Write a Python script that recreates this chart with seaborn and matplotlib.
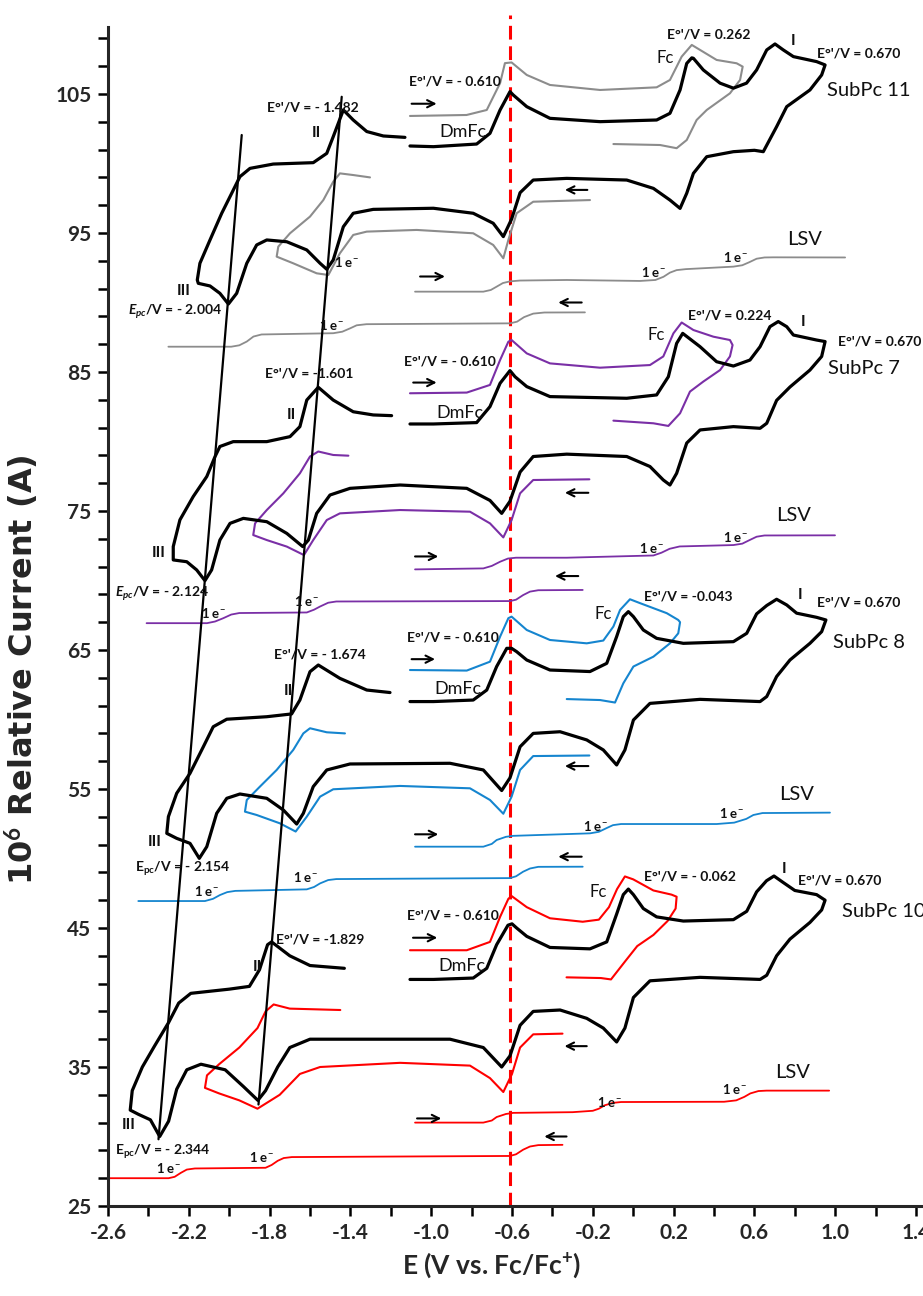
import matplotlib
matplotlib.use("Agg")
import matplotlib.pyplot as plt
import seaborn as sns

sns.set_theme(style="ticks")
plt.rcParams['font.family'] = ['Lato', 'DejaVu Sans']
plt.rcParams['mathtext.fontset'] = 'custom'
plt.rcParams['mathtext.rm'] = 'Lato:bold'
plt.rcParams['mathtext.it'] = 'Lato:italic:bold'
plt.rcParams['mathtext.bf'] = 'Lato:bold'

# ---------------- SubPc 11 (grey) ----------------
s11_cv_E = [-1.105, -0.989, -0.775, -0.709, -0.659, -0.610, -0.594, -0.527, -0.412, -0.164, 0.116, 0.182,
            0.232, 0.265, 0.290, 0.298, 0.347, 0.430, 0.496, 0.561, 0.611, 0.661, 0.702, 0.743, 0.793, 0.908,
            0.950, 0.933, 0.875, 0.760, 0.710, 0.644, 0.600, 0.496, 0.364, 0.298, 0.265, 0.232, 0.182, 0.100,
            -0.032, -0.329, -0.495, -0.560, -0.602, -0.643, -0.693, -0.792, -0.989, -1.287, -1.386, -1.435,
            -1.485, -1.517, -1.550, -1.616, -1.715, -1.814, -1.864, -1.913, -1.963, -2.004, -2.046, -2.095,
            -2.153, -2.158, -2.145, -2.095, -2.037, -1.988, -1.947, -1.897, -1.782, -1.584, -1.517, -1.485,
            -1.435, -1.386, -1.319, -1.237, -1.130]
s11_cv_I = [101.26, 101.21, 101.40, 102.17, 103.85, 105.17, 104.93, 104.09, 103.25, 103.01, 103.13, 103.61,
            105.29, 107.20, 107.60, 107.57, 106.73, 105.78, 105.42, 105.78, 106.73, 108.17, 108.60, 108.17,
            107.69, 107.33, 107.09, 106.37, 105.29, 104.09, 102.65, 100.85, 100.95, 100.85, 100.49, 99.29,
            97.86, 96.77, 97.37, 98.21, 98.81, 98.93, 98.81, 97.90, 96.00, 94.74, 95.70, 96.42, 96.78, 96.70,
            96.42, 95.45, 93.06, 92.39, 92.82, 93.78, 94.37, 94.50, 94.14, 92.82, 90.66, 89.89, 90.66, 91.19,
            91.38, 91.62, 92.82, 94.50, 96.42, 97.85, 99.05, 99.65, 99.96, 100.06, 100.73, 101.93, 103.85,
            103.13, 102.30, 101.98, 101.88]
s11_ref_hi_E = [-1.105, -0.825, -0.725, -0.659, -0.635, -0.602, -0.527, -0.412, -0.164, 0.116, 0.182, 0.240,
                0.290, 0.331, 0.413, 0.512, 0.542, 0.529, 0.479, 0.364, 0.314, 0.265, 0.215, 0.133, -0.098]
s11_ref_hi_I = [103.42, 103.49, 103.85, 105.78, 107.22, 107.27, 106.37, 105.65, 105.29, 105.48, 106.01, 107.69,
                108.53, 108.17, 107.45, 107.21, 106.97, 106.01, 105.05, 103.85, 103.13, 101.69, 101.10, 101.33,
                101.40]
s11_ref_lo_E = [-0.214, -0.495, -0.577, -0.618, -0.643, -0.693, -0.792, -1.072, -1.319, -1.386, -1.452, -1.509,
                -1.567, -1.683, -1.765, -1.757, -1.699, -1.600, -1.534, -1.485, -1.452, -1.386, -1.303]
s11_ref_lo_I = [97.37, 97.25, 96.42, 94.50, 93.18, 94.14, 94.98, 95.22, 95.10, 94.86, 93.54, 91.98, 92.10,
                92.82, 93.30, 94.02, 94.98, 96.18, 97.37, 98.69, 99.29, 99.17, 99.00]
s11_lsv_hi_E = [-1.080, -0.742, -0.705, -0.676, -0.645, -0.610, -0.560, -0.329, 0.034, 0.110, 0.150, 0.182,
                0.215, 0.260, 0.496, 0.540, 0.575, 0.611, 0.650, 0.694, 1.049]
s11_lsv_hi_I = [90.78, 90.78, 90.90, 91.14, 91.40, 91.52, 91.58, 91.62, 91.55, 91.62, 91.85, 92.15,
                92.33, 92.40, 92.58, 92.68, 92.90, 93.15, 93.24, 93.25, 93.24]
s11_lsv_lo_E = [-2.301, -1.990, -1.950, -1.913, -1.880, -1.840, -1.485, -1.440, -1.400, -1.369, -1.320,
                -0.610, -0.575, -0.540, -0.495, -0.440, -0.239]
s11_lsv_lo_I = [86.82, 86.82, 86.92, 87.19, 87.55, 87.70, 87.79, 87.90, 88.15, 88.36, 88.44,
                88.50, 88.62, 88.95, 89.20, 89.28, 89.29]

# ---------------- SubPc 7 (purple) ----------------
s7_cv_E = [-1.105, -0.989, -0.775, -0.709, -0.659, -0.610, -0.585, -0.527, -0.412, -0.032, 0.116, 0.174,
           0.215, 0.245, 0.331, 0.413, 0.496, 0.578, 0.628, 0.677, 0.718, 0.760, 0.793, 0.908, 0.950, 0.933,
           0.875, 0.776, 0.710, 0.661, 0.628, 0.496, 0.331, 0.265, 0.215, 0.182, 0.149, 0.083, -0.032, -0.329,
           -0.495, -0.560, -0.610, -0.651, -0.709, -0.824, -1.154, -1.402, -1.501, -1.567, -1.608, -1.636,
           -1.715, -1.814, -1.930, -1.996, -2.046, -2.087, -2.120, -2.161, -2.210, -2.277, -2.277, -2.244,
           -2.178, -2.111, -2.070, -2.046, -1.980, -1.814, -1.699, -1.650, -1.616, -1.559, -1.485, -1.386,
           -1.287, -1.196]
s7_cv_I = [81.26, 81.26, 81.36, 82.51, 84.19, 85.10, 84.66, 83.95, 83.23, 83.11, 83.35, 84.66, 87.06, 87.78,
           86.82, 85.74, 85.43, 85.86, 86.82, 88.26, 88.63, 88.26, 87.66, 87.30, 87.19, 86.12, 85.14, 83.92,
           82.96, 81.31, 80.95, 81.07, 80.83, 79.89, 77.71, 76.87, 77.23, 78.20, 78.92, 79.09, 78.92, 77.80,
           75.70, 74.83, 75.76, 76.63, 76.87, 76.63, 76.15, 74.83, 72.91, 72.44, 73.39, 74.23, 74.47, 74.11,
           72.91, 70.76, 69.99, 70.76, 71.35, 71.48, 72.44, 74.36, 76.04, 77.48, 78.92, 79.64, 79.99, 79.99,
           80.35, 81.07, 82.98, 83.90, 82.98, 82.14, 81.91, 81.86]
s7_ref_hi_E = [-1.105, -0.824, -0.709, -0.659, -0.618, -0.602, -0.527, -0.412, -0.164, 0.083, 0.149, 0.199,
               0.240, 0.298, 0.397, 0.479, 0.492, 0.479, 0.430, 0.347, 0.281, 0.232, 0.174, 0.100, -0.098]
s7_ref_hi_I = [83.47, 83.52, 84.07, 85.86, 87.18, 87.30, 86.34, 85.62, 85.31, 85.50, 86.12, 87.78, 88.56,
               88.02, 87.54, 87.30, 86.94, 86.12, 85.14, 84.31, 83.59, 82.03, 81.12, 81.31, 81.50]
s7_ref_lo_E = [-0.217, -0.495, -0.560, -0.602, -0.643, -0.709, -0.808, -1.154, -1.452, -1.517, -1.584, -1.630,
               -1.715, -1.814, -1.881, -1.872, -1.814, -1.732, -1.650, -1.600, -1.559, -1.485, -1.410]
s7_ref_lo_I = [77.28, 77.23, 76.27, 74.35, 73.10, 74.11, 74.95, 75.07, 74.83, 74.35, 72.91, 71.83, 72.44,
               72.91, 73.27, 74.11, 75.07, 76.27, 77.71, 78.92, 79.28, 79.03, 78.98]
s7_lsv_hi_E = [-1.080, -0.742, -0.700, -0.659, -0.620, -0.580, -0.329, 0.100, 0.140, 0.180, 0.230, 0.496,
               0.540, 0.575, 0.611, 0.650, 0.999]
s7_lsv_hi_I = [70.80, 70.87, 71.05, 71.35, 71.58, 71.64, 71.64, 71.80, 72.00, 72.28, 72.45, 72.55,
               72.65, 72.90, 73.15, 73.24, 73.25]
s7_lsv_lo_E = [-2.409, -2.110, -2.070, -2.029, -1.990, -1.950, -1.616, -1.580, -1.550, -1.510, -1.470,
               -0.610, -0.580, -0.545, -0.511, -0.470, -0.250]
s7_lsv_lo_I = [66.93, 66.93, 67.05, 67.29, 67.55, 67.66, 67.70, 67.90, 68.13, 68.40, 68.49,
               68.52, 68.62, 68.95, 69.20, 69.30, 69.32]

# ---------------- SubPc 8 (blue) ----------------
s8_cv_E = [-1.105, -0.989, -0.792, -0.725, -0.676, -0.626, -0.602, -0.577, -0.527, -0.412, -0.214, -0.131,
           -0.082, -0.049, -0.024, 0.001, 0.050, 0.116, 0.248, 0.496, 0.562, 0.611, 0.661, 0.710, 0.760, 0.809,
           0.908, 0.954, 0.933, 0.875, 0.776, 0.710, 0.661, 0.628, 0.331, 0.083, 0.001, -0.041, -0.082,
           -0.148, -0.230, -0.362, -0.495, -0.560, -0.610, -0.651, -0.742, -0.907, -1.402, -1.517, -1.584,
           -1.633, -1.666, -1.732, -1.814, -1.947, -2.012, -2.062, -2.111, -2.148, -2.194, -2.260, -2.309,
           -2.301, -2.260, -2.194, -2.128, -2.079, -2.012, -1.814, -1.691, -1.650, -1.600, -1.559, -1.452,
           -1.319, -1.204]
s8_cv_I = [61.29, 61.29, 61.40, 62.12, 63.81, 65.12, 65.12, 64.88, 64.28, 63.56, 63.45, 64.04, 65.96, 67.40,
           67.76, 67.40, 66.44, 65.84, 65.48, 65.60, 66.20, 67.60, 68.20, 68.65, 68.24, 67.65, 67.35, 67.16,
           66.32, 65.48, 64.28, 63.09, 61.65, 61.29, 61.45, 61.16, 59.96, 57.81, 56.73, 57.81, 58.53, 59.12,
           59.00, 58.04, 55.80, 54.89, 56.37, 56.85, 56.80, 56.37, 55.17, 53.25, 52.48, 53.49, 54.33, 54.64,
           54.33, 53.25, 50.85, 50.01, 51.09, 51.45, 51.81, 53.01, 54.69, 56.13, 58.04, 59.48, 60.02, 60.20,
           60.40, 61.40, 63.44, 63.92, 62.96, 62.12, 61.94]
s8_ref_hi_E = [-1.105, -0.824, -0.709, -0.659, -0.618, -0.602, -0.527, -0.412, -0.230, -0.148, -0.098, -0.065,
               -0.016, 0.034, 0.166, 0.223, 0.232, 0.223, 0.182, 0.100, 0.001, -0.049, -0.090, -0.164, -0.329]
s8_ref_hi_I = [63.56, 63.52, 64.16, 65.96, 67.29, 67.40, 66.44, 65.72, 65.48, 65.68, 66.69, 67.88, 68.65,
               68.37, 67.65, 67.16, 67.00, 66.20, 65.48, 64.52, 63.81, 62.60, 61.22, 61.40, 61.47]
s8_ref_lo_E = [-0.217, -0.495, -0.560, -0.602, -0.643, -0.709, -0.808, -1.154, -1.485, -1.550, -1.616, -1.671,
               -1.749, -1.864, -1.922, -1.913, -1.848, -1.765, -1.683, -1.633, -1.600, -1.517, -1.427]
s8_ref_lo_I = [57.41, 57.37, 56.37, 54.45, 53.22, 54.21, 55.05, 55.22, 54.98, 54.45, 53.01, 51.94, 52.53,
               53.13, 53.37, 54.21, 55.17, 56.37, 57.81, 59.00, 59.37, 59.08, 59.00]
s8_lsv_hi_E = [-1.080, -0.742, -0.700, -0.676, -0.630, -0.594, -0.214, -0.170, -0.130, -0.100, -0.060, 0.413,
               0.500, 0.560, 0.595, 0.640, 0.974]
s8_lsv_hi_I = [50.85, 50.85, 51.05, 51.33, 51.56, 51.63, 51.81, 51.92, 52.20, 52.40, 52.48, 52.48,
               52.58, 52.85, 53.13, 53.27, 53.30]
s8_lsv_lo_E = [-2.450, -2.120, -2.080, -2.046, -2.010, -1.970, -1.616, -1.580, -1.550, -1.510, -1.470,
               -0.610, -0.580, -0.545, -0.511, -0.470, -0.250]
s8_lsv_lo_I = [46.94, 46.94, 47.10, 47.37, 47.58, 47.67, 47.78, 47.95, 48.21, 48.45, 48.52,
               48.59, 48.72, 49.05, 49.28, 49.40, 49.41]

# ---------------- SubPc 10 (red) ----------------
s10_cv_E = [-1.105, -0.989, -0.792, -0.725, -0.676, -0.620, -0.600, -0.577, -0.527, -0.412, -0.214, -0.131,
            -0.082, -0.049, -0.024, 0.001, 0.050, 0.116, 0.248, 0.496, 0.562, 0.611, 0.660, 0.697, 0.740,
            0.800, 0.908, 0.950, 0.933, 0.875, 0.776, 0.710, 0.661, 0.628, 0.331, 0.083, 0.001, -0.041,
            -0.082, -0.148, -0.230, -0.362, -0.495, -0.560, -0.610, -0.651, -0.742, -0.907, -1.600, -1.700,
            -1.760, -1.820, -1.858, -1.930, -2.020, -2.140, -2.210, -2.260, -2.300, -2.344, -2.390, -2.450,
            -2.490, -2.480, -2.430, -2.370, -2.300, -2.250, -2.190, -2.000, -1.900, -1.850, -1.810, -1.790,
            -1.700, -1.600, -1.430]
s10_cv_I = [41.30, 41.30, 41.40, 42.10, 43.80, 45.20, 45.30, 45.00, 44.40, 43.60, 43.50, 44.00, 46.00, 47.40,
            47.80, 47.40, 46.40, 45.80, 45.50, 45.60, 46.20, 47.60, 48.40, 48.74, 48.30, 47.70, 47.40, 47.00,
            46.30, 45.40, 44.20, 43.00, 41.60, 41.30, 41.45, 41.20, 40.00, 37.80, 36.80, 37.80, 38.50, 39.10,
            39.00, 38.00, 35.80, 35.00, 36.40, 37.00, 37.00, 36.40, 35.00, 33.30, 32.60, 33.60, 34.80, 35.20,
            34.80, 33.40, 31.10, 30.00, 31.20, 31.60, 31.90, 33.30, 35.00, 36.50, 38.20, 39.60, 40.30, 40.60,
            40.80, 42.00, 43.80, 44.00, 43.00, 42.30, 42.10]
s10_ref_hi_E = [-1.105, -0.824, -0.709, -0.659, -0.618, -0.602, -0.527, -0.412, -0.250, -0.170, -0.120,
                -0.080, -0.041, 0.000, 0.100, 0.190, 0.215, 0.210, 0.170, 0.100, 0.020, -0.040, -0.110,
                -0.160, -0.330]
s10_ref_hi_I = [43.40, 43.40, 44.00, 45.80, 47.10, 47.30, 46.50, 45.70, 45.45, 45.60, 46.50, 47.80, 48.71,
                48.50, 47.70, 47.40, 47.25, 46.40, 45.50, 44.50, 43.70, 42.60, 41.30, 41.40, 41.45]
s10_ref_lo_E = [-0.350, -0.495, -0.560, -0.600, -0.643, -0.709, -0.808, -1.154, -1.550, -1.650, -1.750,
                -1.860, -1.950, -2.050, -2.120, -2.110, -2.050, -1.950, -1.860, -1.820, -1.780, -1.700, -1.450]
s10_ref_lo_I = [37.40, 37.35, 36.40, 34.50, 33.20, 34.20, 35.10, 35.30, 35.00, 34.50, 33.00, 32.00, 32.60,
                33.10, 33.50, 34.40, 35.20, 36.40, 37.80, 39.00, 39.50, 39.20, 39.10]
s10_lsv_hi_E = [-1.080, -0.742, -0.700, -0.676, -0.630, -0.594, -0.300, -0.200, -0.170, -0.140, -0.100,
                -0.060, 0.450, 0.510, 0.550, 0.580, 0.620, 0.660, 0.970]
s10_lsv_hi_I = [31.00, 31.00, 31.15, 31.40, 31.62, 31.70, 31.75, 31.85, 32.00, 32.25, 32.42,
                32.48, 32.50, 32.60, 32.85, 33.10, 33.27, 33.30, 33.30]
s10_lsv_lo_E = [-2.600, -2.300, -2.270, -2.240, -2.210, -2.170, -1.820, -1.790, -1.760, -1.730, -1.690,
                -0.610, -0.580, -0.545, -0.511, -0.470, -0.350]
s10_lsv_lo_I = [27.00, 27.00, 27.10, 27.38, 27.62, 27.70, 27.75, 27.95, 28.25, 28.45, 28.52,
                28.60, 28.72, 29.05, 29.28, 29.38, 29.40]

# Correlation lines through the wave III and wave II peaks
line_III_E = [-1.938, -2.350]
line_III_I = [102.05, 29.8]
line_II_E = [-1.443, -1.855]
line_II_I = [104.8, 32.3]

# DmFc reference potential
dmfc_E = -0.610

# Axis ticks
x_major = [-2.6, -2.2, -1.8, -1.4, -1.0, -0.6, -0.2, 0.2, 0.6, 1.0, 1.4]
x_minor = [-2.4, -2.0, -1.6, -1.2, -0.8, -0.4, 0.0, 0.4, 0.8, 1.2]
y_major = [25, 35, 45, 55, 65, 75, 85, 95, 105]
y_minor = [27, 29, 31, 33, 37, 39, 41, 43, 47, 49, 51, 53, 57, 59, 61, 63, 67, 69, 71, 73,
           77, 79, 81, 83, 87, 89, 91, 93, 97, 99, 101, 103, 107, 109]

GREY = '#8c8c8c'
PURPLE = '#7a2fa6'
BLUE = '#1585cf'
RED = '#ff0000'

W, H = 923, 1296
fig = plt.figure(figsize=(W / 100, H / 100), dpi=100)
ax = fig.add_axes([108 / W, 1 - 1206 / H, (W - 108) / W, (1206 - 15) / H])
ax.set_xlim(-2.6, -2.6 + (W - 108) / 202)
ax.set_ylim(25, 25 + (1206 - 15) / 13.9)

def trace(E, I, color, lw):
    sns.lineplot(x=E, y=I, sort=False, estimator=None, color=color, linewidth=lw, ax=ax,
                 solid_capstyle='round', solid_joinstyle='round')

panels = [
    (s11_cv_E, s11_cv_I, s11_ref_hi_E, s11_ref_hi_I, s11_ref_lo_E, s11_ref_lo_I,
     s11_lsv_hi_E, s11_lsv_hi_I, s11_lsv_lo_E, s11_lsv_lo_I, GREY),
    (s7_cv_E, s7_cv_I, s7_ref_hi_E, s7_ref_hi_I, s7_ref_lo_E, s7_ref_lo_I,
     s7_lsv_hi_E, s7_lsv_hi_I, s7_lsv_lo_E, s7_lsv_lo_I, PURPLE),
    (s8_cv_E, s8_cv_I, s8_ref_hi_E, s8_ref_hi_I, s8_ref_lo_E, s8_ref_lo_I,
     s8_lsv_hi_E, s8_lsv_hi_I, s8_lsv_lo_E, s8_lsv_lo_I, BLUE),
    (s10_cv_E, s10_cv_I, s10_ref_hi_E, s10_ref_hi_I, s10_ref_lo_E, s10_ref_lo_I,
     s10_lsv_hi_E, s10_lsv_hi_I, s10_lsv_lo_E, s10_lsv_lo_I, RED),
]

for (cvE, cvI, rhE, rhI, rlE, rlI, lhE, lhI, llE, llI, col) in panels:
    trace(rhE, rhI, col, 1.5)
    trace(rlE, rlI, col, 1.5)
    trace(lhE, lhI, col, 1.3)
    trace(llE, llI, col, 1.3)
    trace(cvE, cvI, 'black', 2.3)

trace(line_III_E, line_III_I, 'black', 1.6)
trace(line_II_E, line_II_I, 'black', 1.6)

ax.axvline(dmfc_E, ymin=0, ymax=1, color=RED, lw=2.2, linestyle=(0, (4.5, 2.2)), zorder=1)

# scan-direction arrows: (start, end, current)
arrows = [
    (-1.097, -0.973, 104.3), (-1.055, -0.932, 91.87), (-0.227, -0.338, 98.1), (-0.255, -0.371, 90.0),
    (-1.089, -0.973, 84.24), (-1.080, -0.965, 71.73), (-0.222, -0.338, 76.31), (-0.272, -0.387, 70.32),
    (-1.097, -0.981, 64.34), (-1.080, -0.965, 51.74), (-0.222, -0.338, 56.65), (-0.255, -0.371, 50.13),
    (-1.090, -0.970, 44.30), (-1.070, -0.950, 31.30), (-0.230, -0.340, 36.50), (-0.330, -0.440, 30.00),
]
for x0, x1, y in arrows:
    ax.annotate('', xy=(x1, y), xytext=(x0, y),
                arrowprops=dict(arrowstyle='->', lw=1.5, color='black', mutation_scale=13,
                                shrinkA=0, shrinkB=0))

ONE_E = '1 e$^{-}$'
B, N = 'bold', 'normal'
lab = [
    # SubPc 11
    ("E°'/V = - 1.482", -1.585, 104.0, 10, B),
    ("II", -1.570, 102.2, 11.5, B),
    ("E°'/V = - 0.610", -0.882, 105.9, 10, B),
    ("DmFc", -0.844, 102.3, 13, N),
    ("III", -2.227, 90.86, 11.5, B),
    ("$E_{pc}$/V = - 2.004", -2.268, 89.34, 10, B),
    (ONE_E, -1.418, 92.94, 9.5, B),
    (ONE_E, -1.493, 88.38, 9.5, B),
    ("E°'/V = 0.262", 0.372, 109.3, 10, B),
    ("Fc", 0.157, 107.58, 12, N),
    ("I", 0.793, 108.8, 11.5, B),
    ("E°'/V = 0.670", 1.114, 107.94, 10, B),
    ("SubPc 11", 1.164, 105.25, 14.5, N),
    ("LSV", 0.850, 94.5, 14.5, N),
    (ONE_E, 0.504, 93.24, 9.5, B),
    (ONE_E, 0.100, 92.22, 9.5, B),
    # SubPc 7
    ("E°'/V = -1.601", -1.603, 84.86, 10, B),
    ("II", -1.691, 81.91, 11.5, B),
    ("E°'/V = - 0.610", -0.907, 85.79, 10, B),
    ("DmFc", -0.857, 82.03, 13, N),
    ("III", -2.351, 71.97, 11.5, B),
    ("$E_{pc}$/V = - 2.124", -2.334, 69.08, 10, B),
    (ONE_E, -2.079, 67.65, 9.5, B),
    (ONE_E, -1.616, 68.49, 9.5, B),
    ("E°'/V = 0.224", 0.479, 89.1, 10, B),
    ("Fc", 0.113, 87.66, 12, N),
    ("I", 0.842, 88.62, 11.5, B),
    ("E°'/V = 0.670", 1.222, 87.2, 10, B),
    ("SubPc 7", 1.144, 85.22, 14.5, N),
    ("LSV", 0.793, 74.71, 14.5, N),
    (ONE_E, 0.504, 73.1, 9.5, B),
    (ONE_E, 0.091, 72.31, 9.5, B),
    # SubPc 8
    ("E°'/V = - 1.674", -1.550, 64.71, 10, B),
    ("II", -1.707, 62.07, 11.5, B),
    ("E°'/V = - 0.610", -0.890, 65.90, 10, B),
    ("DmFc", -0.866, 62.17, 13, N),
    ("III", -2.367, 51.21, 11.5, B),
    ("E$_{\\mathrm{pc}}$/V = - 2.154", -2.230, 49.29, 10, B),
    (ONE_E, -2.111, 47.66, 9.5, B),
    (ONE_E, -1.625, 48.66, 9.5, B),
    ("E°'/V = -0.043", 0.273, 68.85, 10, B),
    ("Fc", -0.151, 67.59, 12, N),
    ("I", 0.825, 68.96, 11.5, B),
    ("E°'/V = 0.670", 1.114, 68.42, 10, B),
    ("SubPc 8", 1.169, 65.54, 14.5, N),
    ("LSV", 0.807, 54.57, 14.5, N),
    (ONE_E, 0.487, 53.25, 9.5, B),
    (ONE_E, -0.189, 52.34, 9.5, B),
    # SubPc 10
    ("E°'/V = -1.829", -1.55, 44.2, 10, B),
    ("II", -1.86, 42.2, 11.5, B),
    ("E°'/V = - 0.610", -0.89, 45.9, 10, B),
    ("DmFc", -0.85, 42.3, 13, N),
    ("III", -2.50, 30.8, 11.5, B),
    ("E$_{\\mathrm{pc}}$/V = - 2.344", -2.33, 28.9, 10, B),
    (ONE_E, -2.30, 27.75, 9.5, B),
    (ONE_E, -1.84, 28.55, 9.5, B),
    ("E°'/V = - 0.062", 0.281, 48.71, 10, B),
    ("Fc", -0.173, 47.56, 12, N),
    ("I", 0.747, 49.24, 11.5, B),
    ("E°'/V = 0.670", 1.024, 48.42, 10, B),
    ("SubPc 10", 1.24, 46.19, 14.5, N),
    ("LSV", 0.79, 34.6, 14.5, N),
    (ONE_E, 0.50, 33.45, 9.5, B),
    (ONE_E, -0.12, 32.45, 9.5, B),
]
for txt, x, y, fs, fw in lab:
    ax.text(x, y, txt, fontsize=fs, fontweight=fw, ha='center', va='center', color='#111111')

# axes styling
sns.despine(ax=ax)
ax.spines['left'].set_linewidth(2.2)
ax.spines['bottom'].set_linewidth(2.2)
ax.spines['left'].set_bounds(25, 109.8)
ax.set_xticks(x_major)
ax.set_xticks(x_minor, minor=True)
ax.set_xticklabels([f"{v:.1f}" for v in x_major])
ax.set_yticks(y_major)
ax.set_yticks(y_minor, minor=True)
ax.set_yticklabels([str(v) for v in y_major])
ax.tick_params(which='both', direction='out', length=7, width=1.8, color='black')
ax.tick_params(axis='both', which='major', labelsize=15, pad=5)
for t in ax.get_xticklabels() + ax.get_yticklabels():
    t.set_fontweight('bold')
ax.grid(False)

ax.set_xlabel("E (V vs. Fc/Fc$^{\\mathbf{+}}$)", fontsize=19, fontweight='bold')
ax.set_ylabel("10$^{\\mathbf{6}}$ Relative Current (A)", fontsize=23, fontweight='bold',
              family=['DejaVu Sans'])
ax.xaxis.set_label_coords(0.471, -0.037)
ax.yaxis.set_label_coords(-0.082, 0.45)

fig.savefig("out.png", dpi=100)
